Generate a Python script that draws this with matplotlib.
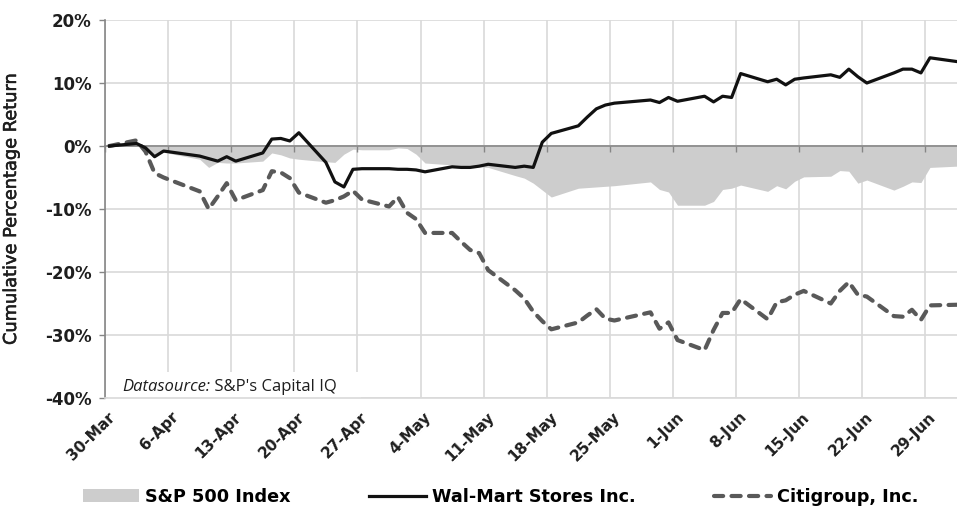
import numpy as np
import pandas as pd
import matplotlib
matplotlib.use('Agg')
import matplotlib.pyplot as plt
import matplotlib.dates as mdates
import matplotlib.transforms as mtransforms
import matplotlib.patheffects as pe
from matplotlib.patches import Patch, Rectangle
from matplotlib.lines import Line2D

# trading days 30-Mar-2012 .. 2-Jul-2012 (market closed Good Friday and Memorial Day)
trade_days = pd.bdate_range('2012-03-30', '2012-07-02').drop(
    pd.to_datetime(['2012-04-06', '2012-05-28']))

# cumulative % return, one value per trading day
sp500 = [0.0, 0.4, -0.9, -1.6, -1.0,
         -2.1, -3.4, -2.6, -2.7, -2.7,
         -2.4, -1.1, -1.4, -1.9, -2.1,
         -2.5, -2.6, -1.3, -0.5, -0.6,
         -0.6, -0.3, -0.4, -1.3, -2.7,
         -3.0, -3.1, -3.2, -3.3, -3.4,
         -4.7, -5.1, -5.9, -7.0, -8.1,
         -6.7, -6.6, -6.5, -6.4, -6.3,
         -5.7, -6.9, -7.3, -9.4,
         -9.4, -8.8, -6.9, -6.7, -6.2,
         -7.2, -6.3, -6.8, -5.6, -4.9,
         -4.8, -3.9, -4.0, -5.9, -5.4,
         -7.0, -6.4, -5.7, -5.8, -3.4,
         -3.2]

walmart = [0.0, 0.4, -0.3, -1.7, -0.8,
           -1.6, -2.0, -2.4, -1.7, -2.4,
           -1.1, 1.1, 1.2, 0.8, 2.1,
           -2.6, -5.7, -6.5, -3.7, -3.6,
           -3.6, -3.7, -3.7, -3.8, -4.1,
           -3.3, -3.4, -3.4, -3.2, -2.9,
           -3.4, -3.2, -3.4, 0.6, 2.0,
           3.2, 4.6, 5.9, 6.5, 6.8,
           7.3, 6.9, 7.7, 7.1,
           7.9, 7.0, 7.9, 7.7, 11.5,
           10.2, 10.6, 9.7, 10.6, 10.8,
           11.3, 10.9, 12.2, 11.0, 10.0,
           11.6, 12.2, 12.2, 11.6, 14.0,
           13.4]

citi = [0.0, 0.9, -0.9, -4.3, -5.0,
        -7.2, -10.0, -8.0, -5.9, -8.6,
        -7.0, -4.0, -4.2, -5.1, -7.4,
        -9.0, -8.6, -8.0, -7.1, -8.5,
        -9.6, -8.1, -10.6, -11.6, -13.8,
        -13.8, -15.2, -16.5, -17.0, -19.7,
        -22.9, -24.2, -26.3, -27.8, -29.1,
        -28.0, -26.9, -25.9, -27.4, -27.7,
        -26.4, -29.0, -28.0, -30.8,
        -32.4, -29.2, -26.5, -26.5, -24.3,
        -27.5, -24.8, -24.5, -23.6, -23.0,
        -25.0, -23.0, -21.6, -23.6, -23.9,
        -27.0, -27.1, -26.0, -27.6, -25.3,
        -25.2]

tick_dates = pd.date_range('2012-03-30', '2012-06-29', freq='7D')
tick_labels = ['30-Mar', '6-Apr', '13-Apr', '20-Apr', '27-Apr', '4-May', '11-May',
               '18-May', '25-May', '1-Jun', '8-Jun', '15-Jun', '22-Jun', '29-Jun']
y_ticks = [-40, -30, -20, -10, 0, 10, 20]
y_labels = ['-40%', '-30%', '-20%', '-10%', '0%', '10%', '20%']

series_names = ['S&P 500 Index', 'Wal-Mart Stores Inc.', 'Citigroup, Inc.']

GRID = '#d9d9d9'
AXIS = '#868686'
FILL = '#cdcdcd'
TEXT = '#1e1e1e'


def main():
    plt.rcParams['font.family'] = ['DejaVu Sans']

    fig = plt.figure(figsize=(9.57, 5.08), dpi=100)
    ax = fig.add_axes([105 / 957, 1 - 398 / 508, 852 / 957, 378 / 508])

    # excel date axis: each day sits in the middle of its slot
    x = mdates.date2num(trade_days) + 0.5
    x0 = mdates.date2num(pd.Timestamp('2012-03-30'))

    ax.fill_between(x, sp500, 0, color=FILL, lw=0, zorder=1)
    ax.plot(x, citi, color='#595959', lw=3.0, dashes=(2.2, 2.0),
            dash_capstyle='round', solid_joinstyle='round', zorder=2)
    ax.plot(x, walmart, color='#111111', lw=2.3, solid_joinstyle='round', zorder=2.1)

    ax.set_xlim(x0, x0 + 94.5)
    ax.set_ylim(-40, 20)

    tick_pos = mdates.date2num(tick_dates)
    ax.set_xticks(tick_pos)
    ax.set_xticklabels(tick_labels, rotation=45, ha='right', va='center',
                       rotation_mode='anchor', fontsize=11, fontweight='bold', color=TEXT)
    ax.tick_params(axis='x', length=0, pad=12)
    shift = mtransforms.ScaledTranslation(8 / 100, 0, fig.dpi_scale_trans)
    for lab in ax.get_xticklabels():
        lab.set_transform(lab.get_transform() + shift)
    ax.set_yticks(y_ticks)
    ax.set_yticklabels(y_labels, fontsize=12, fontweight='bold', color=TEXT)
    ax.tick_params(axis='y', length=4, width=1, color=AXIS, pad=5.5)

    ax.grid(True, color=GRID, lw=1.2)
    ax.set_axisbelow(True)
    for side in ['top', 'right']:
        ax.spines[side].set_visible(False)
    ax.spines['left'].set_color(AXIS)
    ax.spines['left'].set_linewidth(1.2)
    ax.spines['bottom'].set_color(GRID)
    ax.spines['bottom'].set_linewidth(1.2)

    # horizontal category axis crossing at 0%
    zero_ax = ax.secondary_xaxis(0, transform=ax.transData)
    zero_ax.set_xticks(tick_pos)
    zero_ax.tick_params(axis='x', direction='out', length=4, width=1, color=AXIS,
                        labelbottom=False, labeltop=False)
    for sp in zero_ax.spines.values():
        sp.set_color(AXIS)
        sp.set_linewidth(1.2)
    zero_ax.set_zorder(1.5)

    fig.text(11 / 957, 1 - 209 / 508, 'Cumulative Percentage Return', rotation=90,
             ha='center', va='center', fontsize=12.8, color=TEXT,
             path_effects=[pe.withStroke(linewidth=0.4, foreground=TEXT)])

    # white box behind the source note (hides the gridlines there)
    ax.add_patch(Rectangle((0.003, 0.0), 0.297, 0.068, transform=ax.transAxes,
                           facecolor='white', edgecolor='none', zorder=2.3))
    t1 = ax.text(0.02, 0.03, 'Datasource:', transform=ax.transAxes, style='italic',
                 family='Open Sans', fontsize=12, color=TEXT, ha='left', va='center',
                 zorder=2.4)
    ax.annotate(" S&P's Capital IQ", xy=(1, 0.5), xycoords=t1, ha='left', va='center',
                family='Open Sans', fontsize=12, color=TEXT, zorder=2.4)

    handles = [Patch(facecolor=FILL, edgecolor='none'),
               Line2D([], [], color='#111111', lw=2.3),
               Line2D([], [], color='#595959', lw=3.0, dashes=(2.2, 2.0),
                      dash_capstyle='round')]
    fig.legend(handles, series_names, loc='center', bbox_to_anchor=(0.523, 0.022),
               ncol=3, frameon=False, handlelength=3.2, handletextpad=0.35,
               columnspacing=4.45, prop={'weight': 'bold', 'size': 12.7})

    fig.savefig('out.png', dpi=100)


if __name__ == '__main__':
    main()
